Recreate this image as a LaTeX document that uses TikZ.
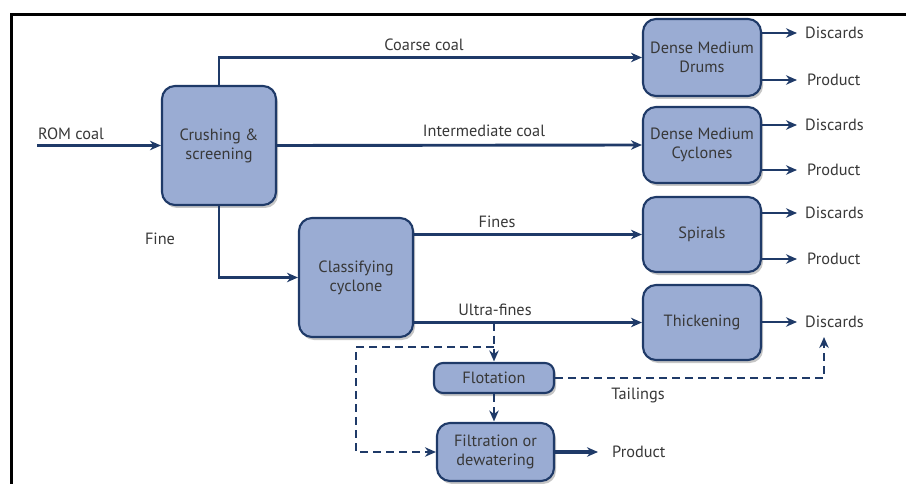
\documentclass[tikz,border=0pt]{standalone}
\usepackage{fontspec}
\setmainfont{PT Sans}
\usetikzlibrary{arrows.meta,shadows}
\definecolor{navy}{HTML}{1F3A68}
\definecolor{boxfill}{HTML}{9AACD3}
\definecolor{txt}{HTML}{383838}
\begin{document}
\begin{tikzpicture}[x=1pt,y=-1pt,
  proc/.style={draw=navy, line width=2.1pt, fill=boxfill, rounded corners=13pt,
    text=txt, align=center, font=\fontsize{16.3}{19}\selectfont, inner sep=0pt,
    drop shadow={shadow xshift=2pt, shadow yshift=-3pt, fill=black!50, opacity=0.45}},
  flow/.style={draw=navy, line width=2.9pt, -{Stealth[length=11pt,width=9.5pt]}},
  dflow/.style={draw=navy, line width=2.9pt, dash pattern=on 8pt off 5pt},
  lbl/.style={text=txt, font=\fontsize{16.3}{19}\selectfont, inner sep=0pt},
]
\useasboundingbox (0,0) rectangle (906,484);
% frame
\draw[line width=3pt] (11,486) -- (11,15) -- (908,15);

% boxes
\node[proc, minimum width=114pt, minimum height=119pt] (crush) at (219,145.5) {Crushing \&\\screening};
\node[proc, minimum width=114pt, minimum height=119pt] (class) at (356,277.5) {Classifying\\cyclone};
\node[proc, minimum width=118pt, minimum height=77pt] (drums) at (702,57.5) {Dense Medium\\Drums};
\node[proc, minimum width=118pt, minimum height=76pt] (cyc) at (702,145) {Dense Medium\\Cyclones};
\node[proc, minimum width=118pt, minimum height=75pt] (spir) at (702,234.5) {Spirals};
\node[proc, minimum width=118pt, minimum height=75pt] (thick) at (702,322.5) {Thickening};
\node[proc, minimum width=120pt, minimum height=30pt, rounded corners=9pt] (flot) at (494,378) {Flotation};
\node[proc, minimum width=117pt, minimum height=58pt] (filt) at (495.5,452) {Filtration or\\dewatering};

% input
\coordinate (romstart) at (37,145.5);
\node[lbl] (lrom) at (71,134) {ROM coal};
\draw[flow] (romstart) -- (crush.west);

% main flows
\draw[flow] (crush.north) |- (drums.west);
\node[lbl] (lcoarse) at (424,45) {Coarse coal};
\draw[flow] (crush.east) -- (cyc.west);
\node[lbl] (linter) at (484,131) {Intermediate coal};
\draw[flow] (crush.south) |- (class.west);
\node[lbl] (lfine) at (160,239) {Fine};
\draw[flow] (class.east |- spir.west) -- (spir.west);
\node[lbl] (lfines) at (497,222) {Fines};
\draw[flow] (class.east |- thick.west) -- (thick.west);
\node[lbl] (lultra) at (495,310) {Ultra-fines};

% outputs
\node[lbl, anchor=west] (d1) at (805,33) {Discards};
\node[lbl, anchor=west] (p1) at (807,80) {Product};
\node[lbl, anchor=west] (d2) at (805,125) {Discards};
\node[lbl, anchor=west] (p2) at (807,170) {Product};
\node[lbl, anchor=west] (d3) at (805,213) {Discards};
\node[lbl, anchor=west] (p3) at (807,259) {Product};
\node[lbl, anchor=west] (d4) at (805,322) {Discards};
\node[lbl, anchor=west] (p5) at (612,452) {Product};
\node[lbl] (ltail) at (638,395) {Tailings};

\draw[flow] (drums.east |- d1.west) -- ([xshift=-8pt]d1.west);
\draw[flow] (drums.east |- p1.west) -- ([xshift=-10pt]p1.west);
\draw[flow] (cyc.east |- d2.west) -- ([xshift=-8pt]d2.west);
\draw[flow] (cyc.east |- p2.west) -- ([xshift=-10pt]p2.west);
\draw[flow] (spir.east |- d3.west) -- ([xshift=-8pt]d3.west);
\draw[flow] (spir.east |- p3.west) -- ([xshift=-10pt]p3.west);
\draw[flow] (thick.east |- d4.west) -- ([xshift=-8pt]d4.west);
\draw[flow, line width=3.6pt] (filt.east) -- ([xshift=-14pt]p5.west);

% dashed flows
\coordinate (uf) at (flot.north |- thick.west);
\coordinate (br) at (494,347);
\coordinate (bl) at (356,347);
\coordinate (tc) at (824,378);
\coordinate (tend) at (824,337);
\draw[dflow] (uf) -- ([yshift=4pt]flot.north);
\draw[flow] ([yshift=8pt]flot.north) -- ([yshift=0.5pt]flot.north);
\draw[dflow] (br) -- (bl) |- ([xshift=-6pt]filt.west);
\draw[flow] ([xshift=-8pt]filt.west) -- (filt.west);
\draw[dflow] (flot.south) -- ([yshift=4pt]flot.south |- filt.north);
\draw[flow] ([yshift=8pt]flot.south |- filt.north) -- ([yshift=0.5pt]flot.south |- filt.north);
\draw[dflow] (flot.east) -- (tc) -- ([yshift=-4pt]tend);
\draw[flow] ([yshift=-8pt]tend) -- (tend);
\end{tikzpicture}
\end{document}
